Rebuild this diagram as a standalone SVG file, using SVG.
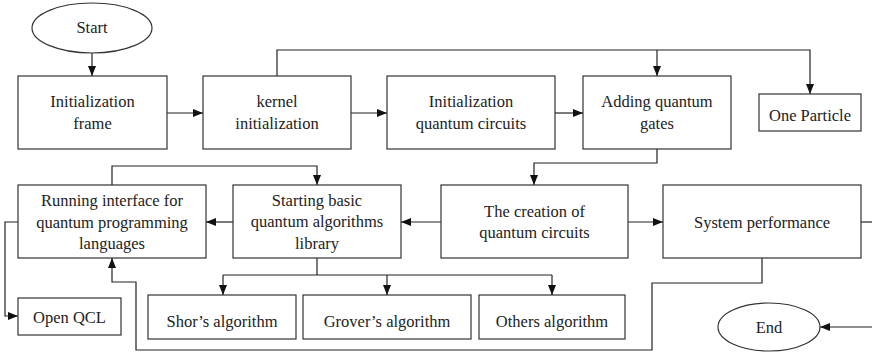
<svg xmlns="http://www.w3.org/2000/svg" width="872" height="352" viewBox="0 0 872 352">
<style>
.box{fill:#fff;stroke:#333;stroke-width:1.2}
.ln{fill:none;stroke:#222;stroke-width:1.2}
.t text{font-size:16.5px;fill:#222;text-anchor:middle}
</style>
<defs>
<marker id="ah" markerUnits="userSpaceOnUse" markerWidth="10" markerHeight="10" viewBox="0 0 10 10" refX="10" refY="5" orient="auto">
<path d="M0,1 L10,5 L0,9 Z" fill="#111"/>
</marker>
</defs>
<rect width="872" height="352" fill="#fff"/>
<g id="connectors">
<path class="ln" d="M92,53 V76" marker-end="url(#ah)"/>
<path class="ln" d="M167,113 H203" marker-end="url(#ah)"/>
<path class="ln" d="M351,113 H387" marker-end="url(#ah)"/>
<path class="ln" d="M555,113 H583" marker-end="url(#ah)"/>
<path class="ln" d="M277,76 V50 H810 V94" marker-end="url(#ah)"/>
<path class="ln" d="M657,50 V76" marker-end="url(#ah)"/>
<path class="ln" d="M657,149 V163 H534 V185" marker-end="url(#ah)"/>
<path class="ln" d="M112,185 V166 H317 V185" marker-end="url(#ah)"/>
<path class="ln" d="M441,222 H401" marker-end="url(#ah)"/>
<path class="ln" d="M233,222 H206" marker-end="url(#ah)"/>
<path class="ln" d="M628,222 H663" marker-end="url(#ah)"/>
<path class="ln" d="M861,222 H872"/>
<path class="ln" d="M18,222 H5 V316 H18" marker-end="url(#ah)"/>
<path class="ln" d="M317,258 V275"/>
<path class="ln" d="M223,275 H552"/>
<path class="ln" d="M223,275 V295" marker-end="url(#ah)"/>
<path class="ln" d="M387,275 V295" marker-end="url(#ah)"/>
<path class="ln" d="M552,275 V295" marker-end="url(#ah)"/>
<path class="ln" d="M762,258 V283 H652 V350 H136 V282 H112 V258" marker-end="url(#ah)"/>
<path class="ln" d="M872,327 H820" marker-end="url(#ah)"/>
</g>
<g class="t" font-family="Liberation Serif, Times New Roman, Tinos, DejaVu Serif, serif">
<g id="start"><ellipse class="box" cx="92" cy="28" rx="60" ry="25"/><text x="92" y="33">Start</text></g>
<g id="init-frame"><rect class="box" x="18" y="76" width="149" height="73"/><text x="92.5" y="107">Initialization</text><text x="92.5" y="128.5">frame</text></g>
<g id="kernel"><rect class="box" x="203" y="76" width="148" height="73"/><text x="277" y="107">kernel</text><text x="277" y="128.5">initialization</text></g>
<g id="init-qc"><rect class="box" x="387" y="76" width="168" height="73"/><text x="471" y="107">Initialization</text><text x="471" y="128.5">quantum circuits</text></g>
<g id="adding"><rect class="box" x="583" y="76" width="148" height="73"/><text x="657" y="107">Adding quantum</text><text x="657" y="128.5">gates</text></g>
<g id="one-particle"><rect class="box" x="759" y="94" width="102" height="37"/><text x="810" y="121">One Particle</text></g>
<g id="running"><rect class="box" x="18" y="185" width="188" height="73"/><text x="112" y="206">Running interface for</text><text x="112" y="227.5">quantum programming</text><text x="112" y="249">languages</text></g>
<g id="starting"><rect class="box" x="233" y="185" width="168" height="73"/><text x="317" y="205.5">Starting basic</text><text x="317" y="227">quantum algorithms</text><text x="317" y="248.5">library</text></g>
<g id="creation"><rect class="box" x="441" y="185" width="187" height="73"/><text x="534.5" y="216.5">The creation of</text><text x="534.5" y="238">quantum circuits</text></g>
<g id="system"><rect class="box" x="663" y="185" width="198" height="73"/><text x="762" y="228">System performance</text></g>
<g id="openqcl"><rect class="box" x="18" y="298" width="103" height="37"/><text x="69.5" y="322.5">Open QCL</text></g>
<g id="shor"><rect class="box" x="148" y="295" width="148" height="44"/><text x="222" y="326.5">Shor’s algorithm</text></g>
<g id="grover"><rect class="box" x="303" y="295" width="168" height="44"/><text x="387" y="326.5">Grover’s algorithm</text></g>
<g id="others"><rect class="box" x="479" y="295" width="146" height="44"/><text x="552" y="326.5">Others algorithm</text></g>
<g id="end"><ellipse class="box" cx="769" cy="327" rx="51" ry="24"/><text x="769" y="333">End</text></g>
</g>
</svg>
